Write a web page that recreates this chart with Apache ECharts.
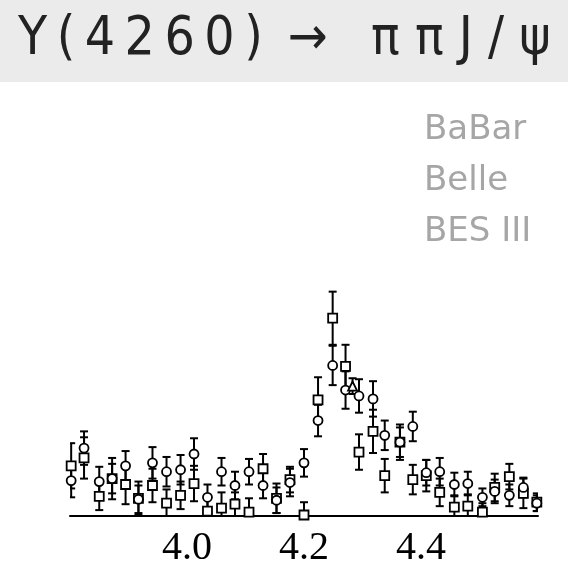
<!DOCTYPE html>
<html>
<head>
<meta charset="utf-8">
<script src="https://cdn.jsdelivr.net/npm/echarts@6/dist/echarts.min.js"></script>
<style>html,body{margin:0;padding:0;background:#fff}#c{width:568px;height:568px}</style>
</head>
<body>
<div id="c"></div>
<script>
// Energies (GeV), shared by BaBar and Belle points
var energies = [3.802,3.824,3.850,3.872,3.895,3.917,3.941,3.965,3.989,4.012,4.035,4.059,4.082,4.106,4.130,4.153,4.176,4.200,4.224,4.249,4.271,4.294,4.318,4.338,4.364,4.386,4.409,4.432,4.457,4.480,4.505,4.526,4.551,4.575,4.598];
// BaBar (squares), arbitrary yield units
var babarY   = [51,59,20,38,32,18,31,13,21,33,5,8,12,4,48,18,37,1,118,201,152,65,86,41,75,37,41,24,9,10,4,29,40,23,14];
var babarErr = [23,21,14,21,20,17,17,14,14,18,12,16,12,14,15,15,13,13,23,27,22,18,22,17,18,15,16,14,12,12,9,14,13,15,9];
// Belle (circles)
var belleY   = [36,69,35,38,51,17,54,45,47,63,19,45,31,45,31,16,34,54,97,153,128,122,119,82,75,91,44,45,32,33,19,25,21,29,13];
var belleErr = [17,17,15,15,15,14,16,15,15,16,13,14,14,13,13,13,14,14,16,20,19,17,18,15,15,15,13,14,12,12,9,12,11,10,8];
// BES III (triangles)
var besX   = [4.283];
var besY   = [132];
var besErr = [8];
var tickLabels = ['4.0','4.2','4.4'];

function pts(xs, ys, es){ return xs.map(function(x,i){ return [x, ys[i], es[i]]; }); }
var babar = pts(energies, babarY, babarErr);
var belle = pts(energies, belleY, belleErr);
var bes = pts(besX, besY, besErr);

function errRender(params, api){
  var x = api.value(0), y = api.value(1), e = api.value(2);
  var t = api.coord([x, y + e]), b = api.coord([x, y - e]);
  var hw = 4, st = {stroke:'#000', lineWidth:2};
  return {type:'group', children:[
    {type:'line', shape:{x1:t[0],y1:t[1],x2:b[0],y2:b[1]}, style:st},
    {type:'line', shape:{x1:t[0]-hw,y1:t[1],x2:t[0]+hw,y2:t[1]}, style:st},
    {type:'line', shape:{x1:b[0]-hw,y1:b[1],x2:b[0]+hw,y2:b[1]}, style:st}
  ]};
}
function errSeries(d){
  return {type:'custom', data:d, renderItem:errRender, clip:true, silent:true, z:2,
          encode:{x:0,y:1}};
}
function markSeries(name, sym, d){
  return {type:'scatter', name:name, data:d, symbol:sym, symbolSize:9, z:3,
          itemStyle:{color:'#fff', borderColor:'#000', borderWidth:1.8, opacity:1},
          encode:{x:0,y:1}};
}

var T = '\u2009';
var titleText = ['Y','(','4','2','6','0',')'].join(T) + T + ' ' + '\u2192' + T + ' ' + T + T + ['\u03c0','\u03c0','J','/','\u03c8'].join(' ');

var chart = echarts.init(document.getElementById('c'), null, {renderer:'canvas'});
chart.setOption({
  backgroundColor:'#fff',
  animation:false,
  graphic:[
    {type:'rect', left:0, top:0, shape:{width:568, height:82}, style:{fill:'#ebebeb'}, z:-1},
    {type:'text', left:18, top:14, style:{
      text:titleText,
      font:'53px "DejaVu Sans Condensed", "DejaVu Sans", sans-serif',
      fill:'#222'}}
  ],
  legend:{
    data:['BaBar','Belle','BES III'],
    orient:'vertical', left:413, top:106,
    itemWidth:0, itemHeight:0, itemGap:13,
    selectedMode:false,
    textStyle:{color:'#a6a6a6', fontSize:34, fontFamily:'DejaVu Sans', lineHeight:38}
  },
  grid:{left:70, right:30, top:270, bottom:48},
  xAxis:{type:'value', min:3.8, max:4.6, interval:0.2,
    axisLine:{show:true, lineStyle:{color:'#000', width:2}},
    axisTick:{show:false}, splitLine:{show:false},
    axisLabel:{margin:12, color:'#000', fontSize:40, fontFamily:'"Liberation Serif", "Times New Roman", serif',
      formatter:function(v){ var s=v.toFixed(1); return tickLabels.indexOf(s)>=0 ? s : ''; }}
  },
  yAxis:{type:'value', min:0, max:250, show:false, splitLine:{show:false}},
  series:[
    errSeries(babar), errSeries(belle), errSeries(bes),
    markSeries('BaBar','rect',babar),
    markSeries('Belle','circle',belle),
    markSeries('BES III','triangle',bes)
  ]
});
</script>
</body>
</html>
